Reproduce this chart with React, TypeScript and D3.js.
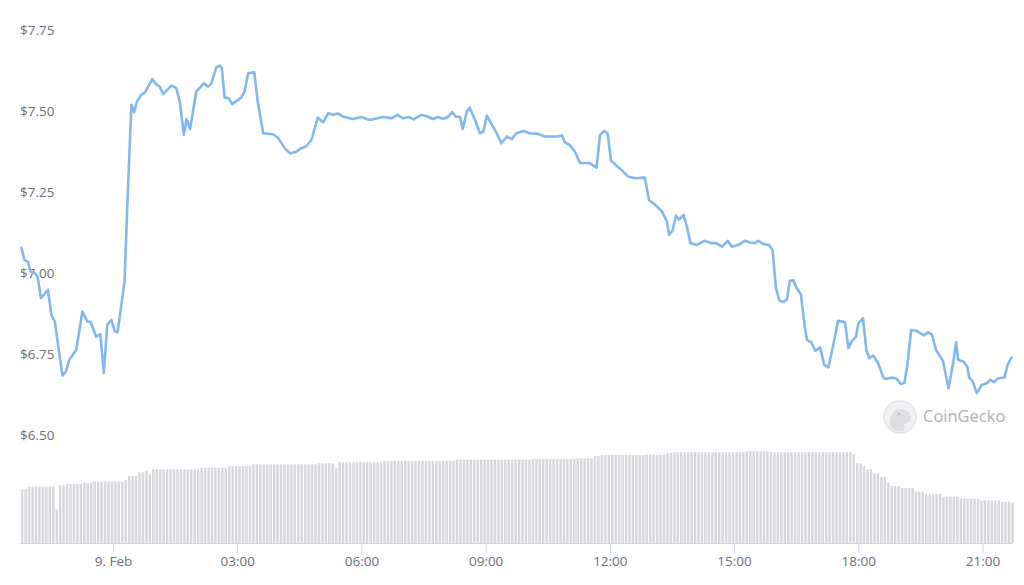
import React from "react";
import * as d3 from "d3";

// Price series: minutes relative to 9 Feb 00:00, price in USD
const priceMinutes = [
  -134, -129, -124, -120, -114, -110, -105, -95, -90, -85, -74, -69, -64, -54, -45, -38, -33, -25, -19, -14, -9, -3,
  2, 6, 16, 21, 26, 30, 34, 40, 46, 56, 62, 67, 72, 84, 91, 96, 102, 106, 111, 120, 131, 137, 142, 149, 154, 157,
  161, 167, 172, 185, 190, 195, 204, 209, 214, 217, 231, 238, 248, 256, 265, 272, 279, 287, 296, 304, 311, 318,
  325, 333, 347, 359, 371, 391, 403, 411, 420, 428, 435, 446, 456, 463, 470, 478, 485, 491, 496, 502, 506, 512,
  516, 524, 531, 536, 541, 548, 556, 562, 570, 577, 584, 594, 603, 615, 625, 644, 650, 654, 661, 669, 676, 690,
  700, 705, 711, 716, 721, 729, 736, 746, 756, 770, 776, 785, 795, 802, 805, 810, 815, 819, 826, 831, 836, 845,
  856, 866, 873, 882, 890, 896, 905, 915, 922, 930, 934, 942, 950, 955, 960, 965, 971, 976, 980, 985, 990, 996,
  1002, 1005, 1011, 1017, 1024, 1030, 1036, 1043, 1050, 1060, 1065, 1070, 1076, 1079, 1086, 1091, 1095, 1101,
  1108, 1116, 1121, 1128, 1135, 1141, 1146, 1150, 1156, 1164, 1174, 1181, 1186, 1192, 1198, 1202, 1210, 1217,
  1221, 1224, 1232, 1237, 1240, 1245, 1251, 1258, 1266, 1270, 1276, 1282, 1291, 1296, 1302,
];
const priceValues = [
  7.106, 7.065, 7.06, 7.029, 7.024, 7.014, 6.947, 6.973, 6.895, 6.875, 6.708, 6.72, 6.757, 6.787, 6.906, 6.875,
  6.873, 6.828, 6.836, 6.716, 6.865, 6.88, 6.844, 6.842, 6.998, 7.286, 7.544, 7.521, 7.554, 7.574, 7.583, 7.623,
  7.607, 7.6, 7.577, 7.603, 7.595, 7.554, 7.451, 7.5, 7.469, 7.585, 7.61, 7.6, 7.61, 7.659, 7.665, 7.657, 7.566,
  7.564, 7.546, 7.566, 7.585, 7.641, 7.644, 7.554, 7.492, 7.456, 7.453, 7.443, 7.41, 7.394, 7.399, 7.41, 7.415,
  7.436, 7.504, 7.49, 7.518, 7.513, 7.517, 7.507, 7.5, 7.506, 7.497, 7.506, 7.502, 7.513, 7.502, 7.506, 7.499,
  7.513, 7.507, 7.5, 7.506, 7.5, 7.507, 7.521, 7.507, 7.507, 7.469, 7.523, 7.535, 7.497, 7.456, 7.461, 7.51,
  7.484, 7.453, 7.425, 7.446, 7.438, 7.456, 7.463, 7.456, 7.454, 7.446, 7.446, 7.449, 7.428, 7.42, 7.398, 7.364,
  7.364, 7.35, 7.451, 7.463, 7.456, 7.371, 7.356, 7.343, 7.322, 7.317, 7.319, 7.25, 7.235, 7.214, 7.183, 7.142,
  7.155, 7.202, 7.189, 7.204, 7.168, 7.117, 7.111, 7.124, 7.117, 7.117, 7.106, 7.124, 7.106, 7.111, 7.124, 7.119,
  7.117, 7.124, 7.114, 7.111, 7.096, 6.978, 6.939, 6.935, 6.944, 7.0, 7.003, 6.978, 6.959, 6.854, 6.818, 6.811,
  6.784, 6.795, 6.741, 6.733, 6.803, 6.877, 6.873, 6.793, 6.815, 6.828, 6.867, 6.885, 6.787, 6.762, 6.77, 6.746,
  6.7, 6.698, 6.702, 6.698, 6.682, 6.685, 6.736, 6.849, 6.846, 6.832, 6.842, 6.834, 6.787, 6.767, 6.753, 6.669,
  6.751, 6.811, 6.757, 6.751, 6.736, 6.702, 6.69, 6.654, 6.679, 6.685, 6.695, 6.688, 6.7, 6.702, 6.743, 6.767,
];

// Volume (arbitrary units), read as runs: each run starts at the given minute and holds its value
const volumeRunStarts = [
  -140, -126, -84, -80, -73, -45, -30, 12, 20, 32, 44, 51, 55, 125, 165, 199, 294, 319, 325, 389, 495, 603, 669,
  695, 703, 770, 798, 809, 915, 951, 1069, 1075, 1082, 1091, 1098, 1107, 1117, 1125, 1137, 1157, 1176, 1201, 1224,
  1253, 1282, 1297,
];
const volumeRunValues = [
  59.7, 62.6, 37.4, 64.1, 65.6, 67, 68.1, 70, 74.4, 78.6, 80, 76.3, 81.9, 83.7, 85.6, 87.4, 88.6, 83, 89.7, 91.1,
  92.6, 93.3, 94.1, 96.7, 97.8, 98.1, 99.7, 100.8, 101.9, 100.8, 98.9, 88.6, 85.6, 81.9, 77.4, 73.7, 67, 63.3, 61.1,
  57, 54.4, 51.4, 49.2, 47.4, 45.9, 44.8,
];
const volumeStepMinutes = 5;

const yTickValues = [6.5, 6.75, 7.0, 7.25, 7.5, 7.75];
const xTickLabels = ["9. Feb", "03:00", "06:00", "09:00", "12:00", "15:00", "18:00", "21:00"];

const W = 1024;
const H = 585;
const FONT = "'Open Sans', 'Noto Sans', sans-serif";

const day0 = Date.UTC(2022, 1, 9, 0, 0, 0);
const toDate = (m: number) => new Date(day0 + m * 60000);

export default function App() {
  const x = d3
    .scaleTime()
    .domain([toDate(priceMinutes[0]), toDate(priceMinutes[priceMinutes.length - 1])])
    .range([21, 1012]);
  const y = d3.scaleLinear().domain([6.5, 7.75]).range([443, 38]);
  const yVol = d3.scaleLinear().domain([0, 120]).range([543, 435]);

  const pricePts = priceMinutes.map((m, i) => ({ t: toDate(m), v: priceValues[i] }));
  const line = d3
    .line<{ t: Date; v: number }>()
    .x((d) => x(d.t))
    .y((d) => y(d.v))
    .curve(d3.curveLinear);

  const barTimes = d3.range(priceMinutes[0], priceMinutes[priceMinutes.length - 1], volumeStepMinutes);
  const runIdx = (m: number) => {
    let k = 0;
    for (let i = 0; i < volumeRunStarts.length; i++) if (volumeRunStarts[i] <= m) k = i;
    return k;
  };
  const bars = barTimes.map((m) => ({ t: toDate(m), v: volumeRunValues[runIdx(m)] }));
  const barW = 2.4;

  const xTicks = d3.utcHour.every(3)!.range(toDate(0), toDate(1261));

  return (
    <svg width={W} height={H} style={{ position: "absolute", left: 0, top: 0, background: "#fff" }}>
      <rect x={0} y={0} width={W} height={H} fill="#ffffff" />
      {/* gridlines (very faint dotted) */}
      {yTickValues.map((v) => (
        <line
          key={"g" + v}
          x1={20}
          x2={1012}
          y1={y(v)}
          y2={y(v)}
          stroke="#f1f1f4"
          strokeWidth={1}
          strokeDasharray="1,3"
        />
      ))}
      {/* volume bars */}
      <g>
        {bars.map((b, i) => (
          <rect
            key={"b" + i}
            x={x(b.t)}
            y={yVol(b.v)}
            width={barW}
            height={yVol(0) - yVol(b.v)}
            fill="#d6d7dd"
          />
        ))}
      </g>
      {/* x axis */}
      <line x1={20} x2={1013} y1={543.5} y2={543.5} stroke="#ccd6eb" strokeWidth={1} />
      {xTicks.map((t, i) => (
        <g key={"xt" + i}>
          <line x1={x(t)} x2={x(t)} y1={543} y2={553} stroke="#ccd6eb" strokeWidth={1} />
          <text
            x={x(t)}
            y={566}
            textAnchor="middle"
            fontFamily={FONT}
            fontSize={13.5}
            fill="#6f6d79"
          >
            {xTickLabels[i]}
          </text>
        </g>
      ))}
      {/* y labels */}
      {yTickValues.map((v) => (
        <text key={"yl" + v} x={20} y={y(v) - 3} fontFamily={FONT} fontSize={13.5} fill="#6f6d79">
          {"$" + v.toFixed(2)}
        </text>
      ))}
      {/* price line */}
      <path d={line(pricePts) || ""} fill="none" stroke="#82b8ee" strokeWidth={2.6} strokeLinejoin="round" />
      {/* watermark */}
      <g opacity={0.9}>
        <circle cx={900} cy={417} r={16} fill="#f1f1f3" stroke="#e2e2e6" strokeWidth={1.5} />
        <path
          d="M890,426 C889,416 893,409 901,409 C907,409 911,413 911,418 C911,422 907,423 904,424 L904,430 C899,432 893,431 890,426 Z"
          fill="#dadadf"
        />
        <circle cx={899} cy={414} r={1.2} fill="#b5b5bb" />
        <text x={923} y={422} fontFamily={FONT} fontSize={16.5} fill="#a9a9b0">
          CoinGecko
        </text>
      </g>
    </svg>
  );
}
